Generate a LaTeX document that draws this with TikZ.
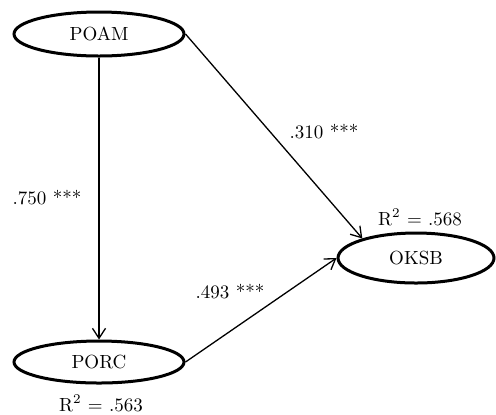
\documentclass[tikz,border=0pt]{standalone}
\usepackage{amsmath}
\usepackage{tikz}
\usetikzlibrary{arrows.meta}
\usetikzlibrary{shapes}

\begin{document}
\begin{tikzpicture}
      [x=0.5pt,y=-0.5pt,
        font=\fontsize{9.5}{11}\selectfont,
        construct/.style={draw,ellipse,line width=1.5pt,inner sep=0pt},
        path/.style={line width=0.65pt,-{Straight Barb[length=5pt,width=6.5pt]}}]
      \useasboundingbox (0,0) rectangle (496,414);
      \node[construct,minimum width=85pt,minimum height=22pt] (poam) at (99,34) {POAM};
      \node[construct,minimum width=85pt,minimum height=21pt] (porc) at (99,362) {PORC};
      \node[construct,minimum width=78pt,minimum height=25pt] (oksb) at (416,258) {OKSB};
      \draw[path] (poam) -- (porc);
      \draw[path] (poam.east) -- (oksb.160);
      \draw[path] (porc.east) -- (oksb.west);
      \node (b1) at (47,198) {.750 ***};
      \node (b2) at (324,132) {.310 ***};
      \node (b3) at (230,292) {.493 ***};
      \node (r1) at (420,217) {R\textsuperscript{2} = .568};
      \node (r2) at (101,403) {R\textsuperscript{2} = .563};
    \end{tikzpicture}
\end{document}
